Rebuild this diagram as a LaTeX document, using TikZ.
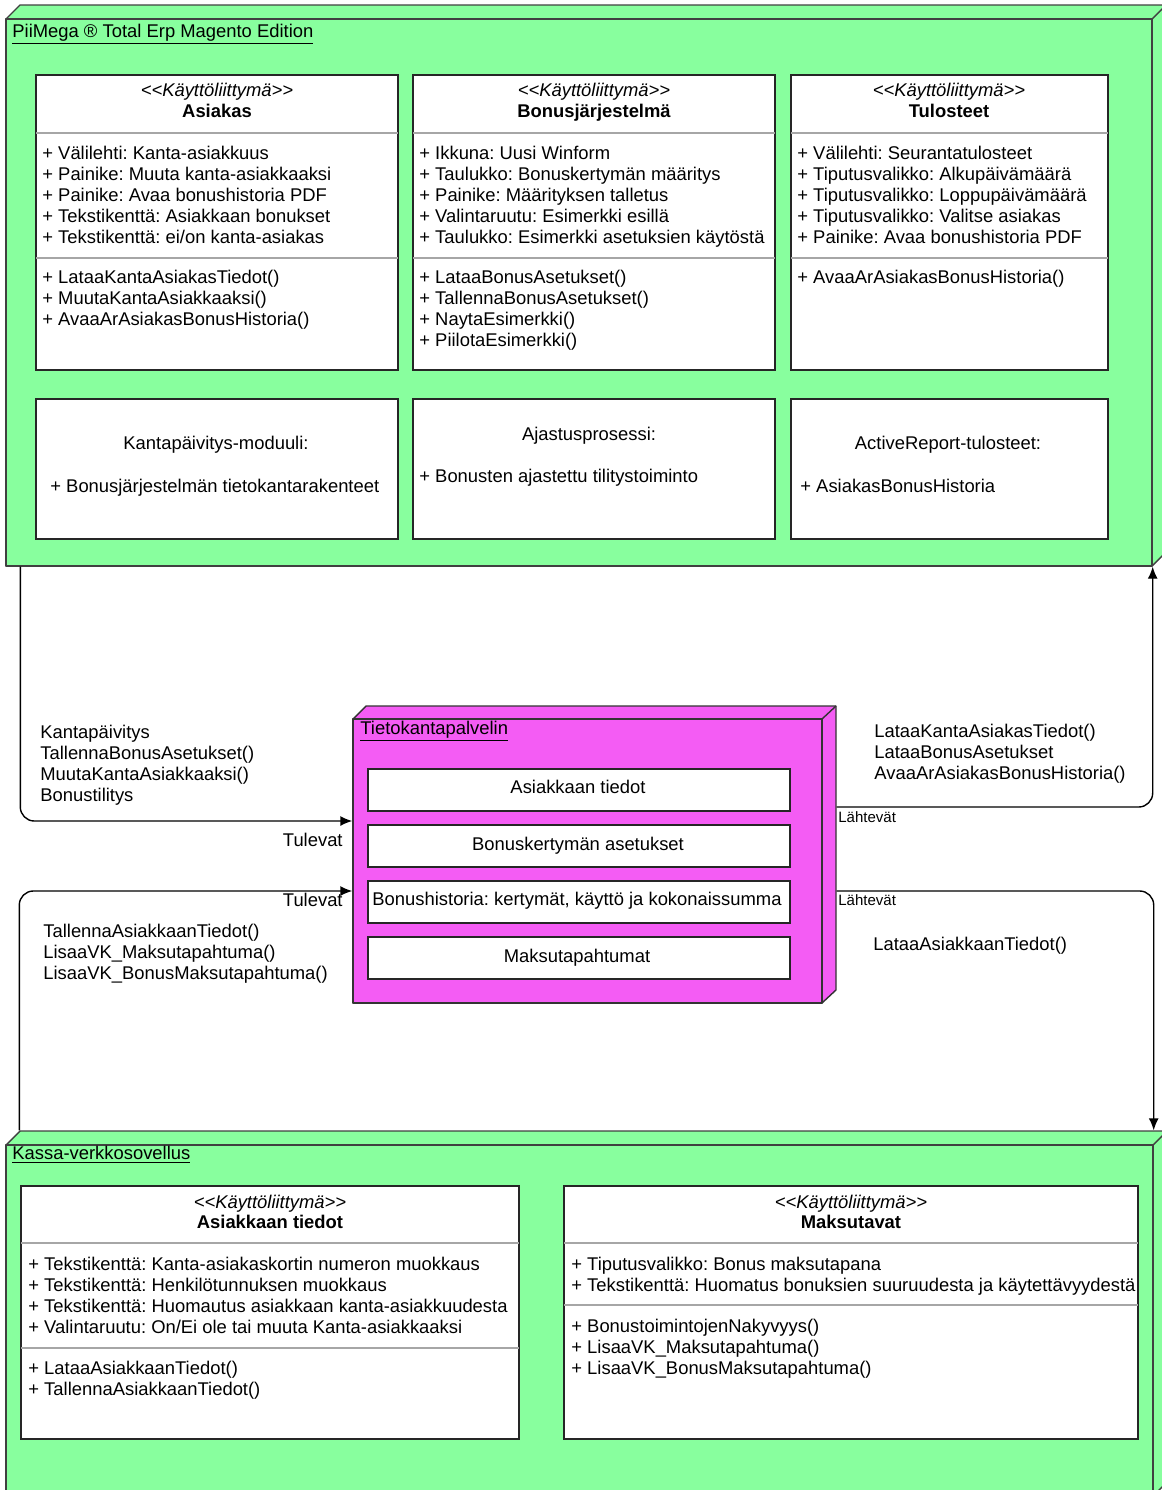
\documentclass[tikz,border=0pt]{standalone}
\usepackage{fontspec}
\newfontfamily\umlfont{Liberation Sans}
\usetikzlibrary{arrows.meta}
\usetikzlibrary{fit}

\definecolor{pkggreen}{RGB}{136,255,158}
\definecolor{dbmagenta}{RGB}{244,92,244}

\newcommand{\umltext}{\umlfont\frenchspacing\fontsize{9.2}{10.5}\selectfont}
\newcommand{\smalltext}{\umlfont\fontsize{7.5}{8.5}\selectfont}

\begin{document}
\begin{tikzpicture}[x=0.5pt,y=-0.5pt]

\tikzstyle{every node}=[font=\umltext, inner sep=0pt]
\tikzstyle{package}=[draw=black!75, fill=pkggreen, line width=0.7pt, line join=round]
\tikzstyle{server}=[draw=black!80, fill=dbmagenta, line width=0.7pt, line join=round]
\tikzstyle{uibox}=[draw=black!85, fill=white, line width=0.9pt]
\tikzstyle{divider}=[draw=black!35, line width=0.8pt]
\tikzstyle{stereo}=[anchor=base, font=\umltext\itshape]
\tikzstyle{classname}=[anchor=base, font=\umltext\bfseries]
\tikzstyle{members}=[anchor=north west, align=left]
\tikzstyle{connect}=[-{Latex[length=6pt,width=5pt]}, line width=0.7pt, rounded corners=7pt]

\useasboundingbox (0,0) rectangle (1162,1490);

% PiiMega package
\draw[package] (6,19) -- (20,5) -- (1166,5) -- (1166,552) -- (1152,566) -- (6,566) -- cycle;
\node[package, fit={(6,19) (1152,566)}] (erp) {};
\draw[package, fill=none] (1152,19) -- (1166,5);
\node[anchor=base west] (erptitle) at (12,37) {\underline{PiiMega ® Total Erp Magento Edition}};

\node[uibox, fit={(36,75) (398,370)}] (asiakas) {};
\draw[divider] (36,133) -- (398,133);
\draw[divider] (36,258) -- (398,258);
\node[stereo] (asiakasst) at (217,96) {<<Käyttöliittymä>>};
\node[classname] (asiakasnm) at (217,117) {Asiakas};
\node[members] (asiakasattr) at (42,144) {\strut+ Välilehti: Kanta-asiakkuus\\+ Painike: Muuta kanta-asiakkaaksi\\+ Painike: Avaa bonushistoria PDF\\+ Tekstikenttä: Asiakkaan bonukset\\+ Tekstikenttä: ei/on kanta-asiakas};
\node[members] (asiakasop) at (42,268) {\strut+ LataaKantaAsiakasTiedot()\\+ MuutaKantaAsiakkaaksi()\\+ AvaaArAsiakasBonusHistoria()};

\node[uibox, fit={(413,75) (775,370)}] (bonus) {};
\draw[divider] (413,133) -- (775,133);
\draw[divider] (413,258) -- (775,258);
\node[stereo] (bonusst) at (594,96) {<<Käyttöliittymä>>};
\node[classname] (bonusnm) at (594,117) {Bonusjärjestelmä};
\node[members] (bonusattr) at (419,144) {\strut+ Ikkuna: Uusi Winform\\+ Taulukko: Bonuskertymän määritys\\+ Painike: Määrityksen talletus\\+ Valintaruutu: Esimerkki esillä\\+ Taulukko: Esimerkki asetuksien käytöstä};
\node[members] (bonusop) at (419,268) {\strut+ LataaBonusAsetukset()\\+ TallennaBonusAsetukset()\\+ NaytaEsimerkki()\\+ PiilotaEsimerkki()};

\node[uibox, fit={(791,75) (1108,370)}] (tulosteet) {};
\draw[divider] (791,133) -- (1108,133);
\draw[divider] (791,258) -- (1108,258);
\node[stereo] (tulosteetst) at (949,96) {<<Käyttöliittymä>>};
\node[classname] (tulosteetnm) at (949,117) {Tulosteet};
\node[members] (tulosteetattr) at (797,144) {\strut+ Välilehti: Seurantatulosteet\\+ Tiputusvalikko: Alkupäivämäärä\\+ Tiputusvalikko: Loppupäivämäärä\\+ Tiputusvalikko: Valitse asiakas\\+ Painike: Avaa bonushistoria PDF};
\node[members] (tulosteetop) at (797,268) {\strut+ AvaaArAsiakasBonusHistoria()};

\node[uibox, fit={(36,399) (398,539)}] (kantamod) {};
\node[anchor=base] (kantamodnm) at (216,449) {Kantapäivitys-moduuli:};
\node[anchor=base west] (kantamodit) at (50,492) {+ Bonusjärjestelmän tietokantarakenteet};

\node[uibox, fit={(413,399) (775,539)}] (ajastus) {};
\node[anchor=base] (ajastusnm) at (589,440) {Ajastusprosessi:};
\node[anchor=base west] (ajastusit) at (419,482) {+ Bonusten ajastettu tilitystoiminto};

\node[uibox, fit={(791,399) (1108,539)}] (activerep) {};
\node[anchor=base] (activerepnm) at (948,449) {ActiveReport-tulosteet:};
\node[anchor=base west] (activerepit) at (800,492) {+ AsiakasBonusHistoria};

% Tietokantapalvelin
\draw[server] (353,719) -- (366,706) -- (836,706) -- (836,990) -- (822,1003) -- (353,1003) -- cycle;
\node[server, fit={(353,719) (822,1003)}] (db) {};
\draw[server, fill=none] (822,719) -- (836,706);
\node[anchor=base west] (dbtitle) at (360,734) {\underline{Tietokantapalvelin}};
\node[uibox, fit={(368,769) (790,811)}] (dbasiakas) {};
\node[uibox, fit={(368,825) (790,867)}] (dbasetukset) {};
\node[uibox, fit={(368,881) (790,923)}] (dbhistoria) {};
\node[uibox, fit={(368,937) (790,979)}] (dbmaksu) {};
\node[anchor=base] (dbasiakastx) at (578,793) {Asiakkaan tiedot};
\node[anchor=base] (dbasetuksettx) at (578,850) {Bonuskertymän asetukset};
\node[anchor=base] (dbhistoriatx) at (577,905) {Bonushistoria: kertymät, käyttö ja kokonaissumma};
\node[anchor=base] (dbmaksutx) at (577,962) {Maksutapahtumat};

% Kassa package
\draw[package] (6,1145) -- (20,1131) -- (1167,1131) -- (1167,1482) -- (1153,1496) -- (6,1496) -- cycle;
\node[package, fit={(6,1145) (1153,1496)}] (kassa) {};
\draw[package, fill=none] (1153,1145) -- (1167,1131);
\node[anchor=base west] (kassatitle) at (12,1159) {\underline{Kassa-verkkosovellus}};

\node[uibox, fit={(21,1186) (519,1439)}] (asiakastiedot) {};
\draw[divider] (21,1243) -- (519,1243);
\draw[divider] (21,1348) -- (519,1348);
\node[stereo] (asiakastiedotst) at (270,1208) {<<Käyttöliittymä>>};
\node[classname] (asiakastiedotnm) at (270,1228) {Asiakkaan tiedot};
\node[members] (asiakastiedotattr) at (28,1255) {\strut+ Tekstikenttä: Kanta-asiakaskortin numeron muokkaus\\+ Tekstikenttä: Henkilötunnuksen muokkaus\\+ Tekstikenttä: Huomautus asiakkaan kanta-asiakkuudesta\\+ Valintaruutu: On/Ei ole tai muuta Kanta-asiakkaaksi};
\node[members] (asiakastiedotop) at (28,1359) {\strut+ LataaAsiakkaanTiedot()\\+ TallennaAsiakkaanTiedot()};

\node[uibox, fit={(564,1186) (1138,1439)}] (maksutavat) {};
\draw[divider] (564,1243) -- (1138,1243);
\draw[divider] (564,1305) -- (1138,1305);
\node[stereo] (maksutavatst) at (851,1208) {<<Käyttöliittymä>>};
\node[classname] (maksutavatnm) at (851,1228) {Maksutavat};
\node[members] (maksutavatattr) at (571,1255) {\strut+ Tiputusvalikko: Bonus maksutapana\\+ Tekstikenttä: Huomatus bonuksien suuruudesta ja käytettävyydestä};
\node[members] (maksutavatop) at (571,1317) {\strut+ BonustoimintojenNakyvyys()\\+ LisaaVK\_Maksutapahtuma()\\+ LisaaVK\_BonusMaksutapahtuma()};

% connectors
\draw[connect] ([xshift=7.5pt]erp.south west) |- ([yshift=20pt]db.west);
\draw[connect] ([xshift=7pt,yshift=7pt]kassa.north west) |- ([yshift=-15pt]db.west);
\draw[connect] ([xshift=7pt,yshift=27pt]db.east) -| (erp.south east);
\draw[connect] ([xshift=7pt,yshift=-15pt]db.east) -| ([yshift=7pt]kassa.north east);

\node[members] (inlabel1) at (40,723) {\strut Kantapäivitys\\TallennaBonusAsetukset()\\MuutaKantaAsiakkaaksi()\\Bonustilitys};
\node[anchor=base east] (tulevat1) at (343,846) {Tulevat};
\node[anchor=base east] (tulevat2) at (343,906) {Tulevat};
\node[members] (inlabel2) at (43,922) {\strut TallennaAsiakkaanTiedot()\\LisaaVK\_Maksutapahtuma()\\LisaaVK\_BonusMaksutapahtuma()};
\node[members] (outlabel1) at (874,722) {\strut LataaKantaAsiakasTiedot()\\LataaBonusAsetukset\\AvaaArAsiakasBonusHistoria()};
\node[anchor=base west] (outlabel2) at (873,950) {LataaAsiakkaanTiedot()};
\node[anchor=base west, font=\smalltext] (lahtevat1) at (838,822) {Lähtevät};
\node[anchor=base west, font=\smalltext] (lahtevat2) at (838,905) {Lähtevät};

\end{tikzpicture}
\end{document}
